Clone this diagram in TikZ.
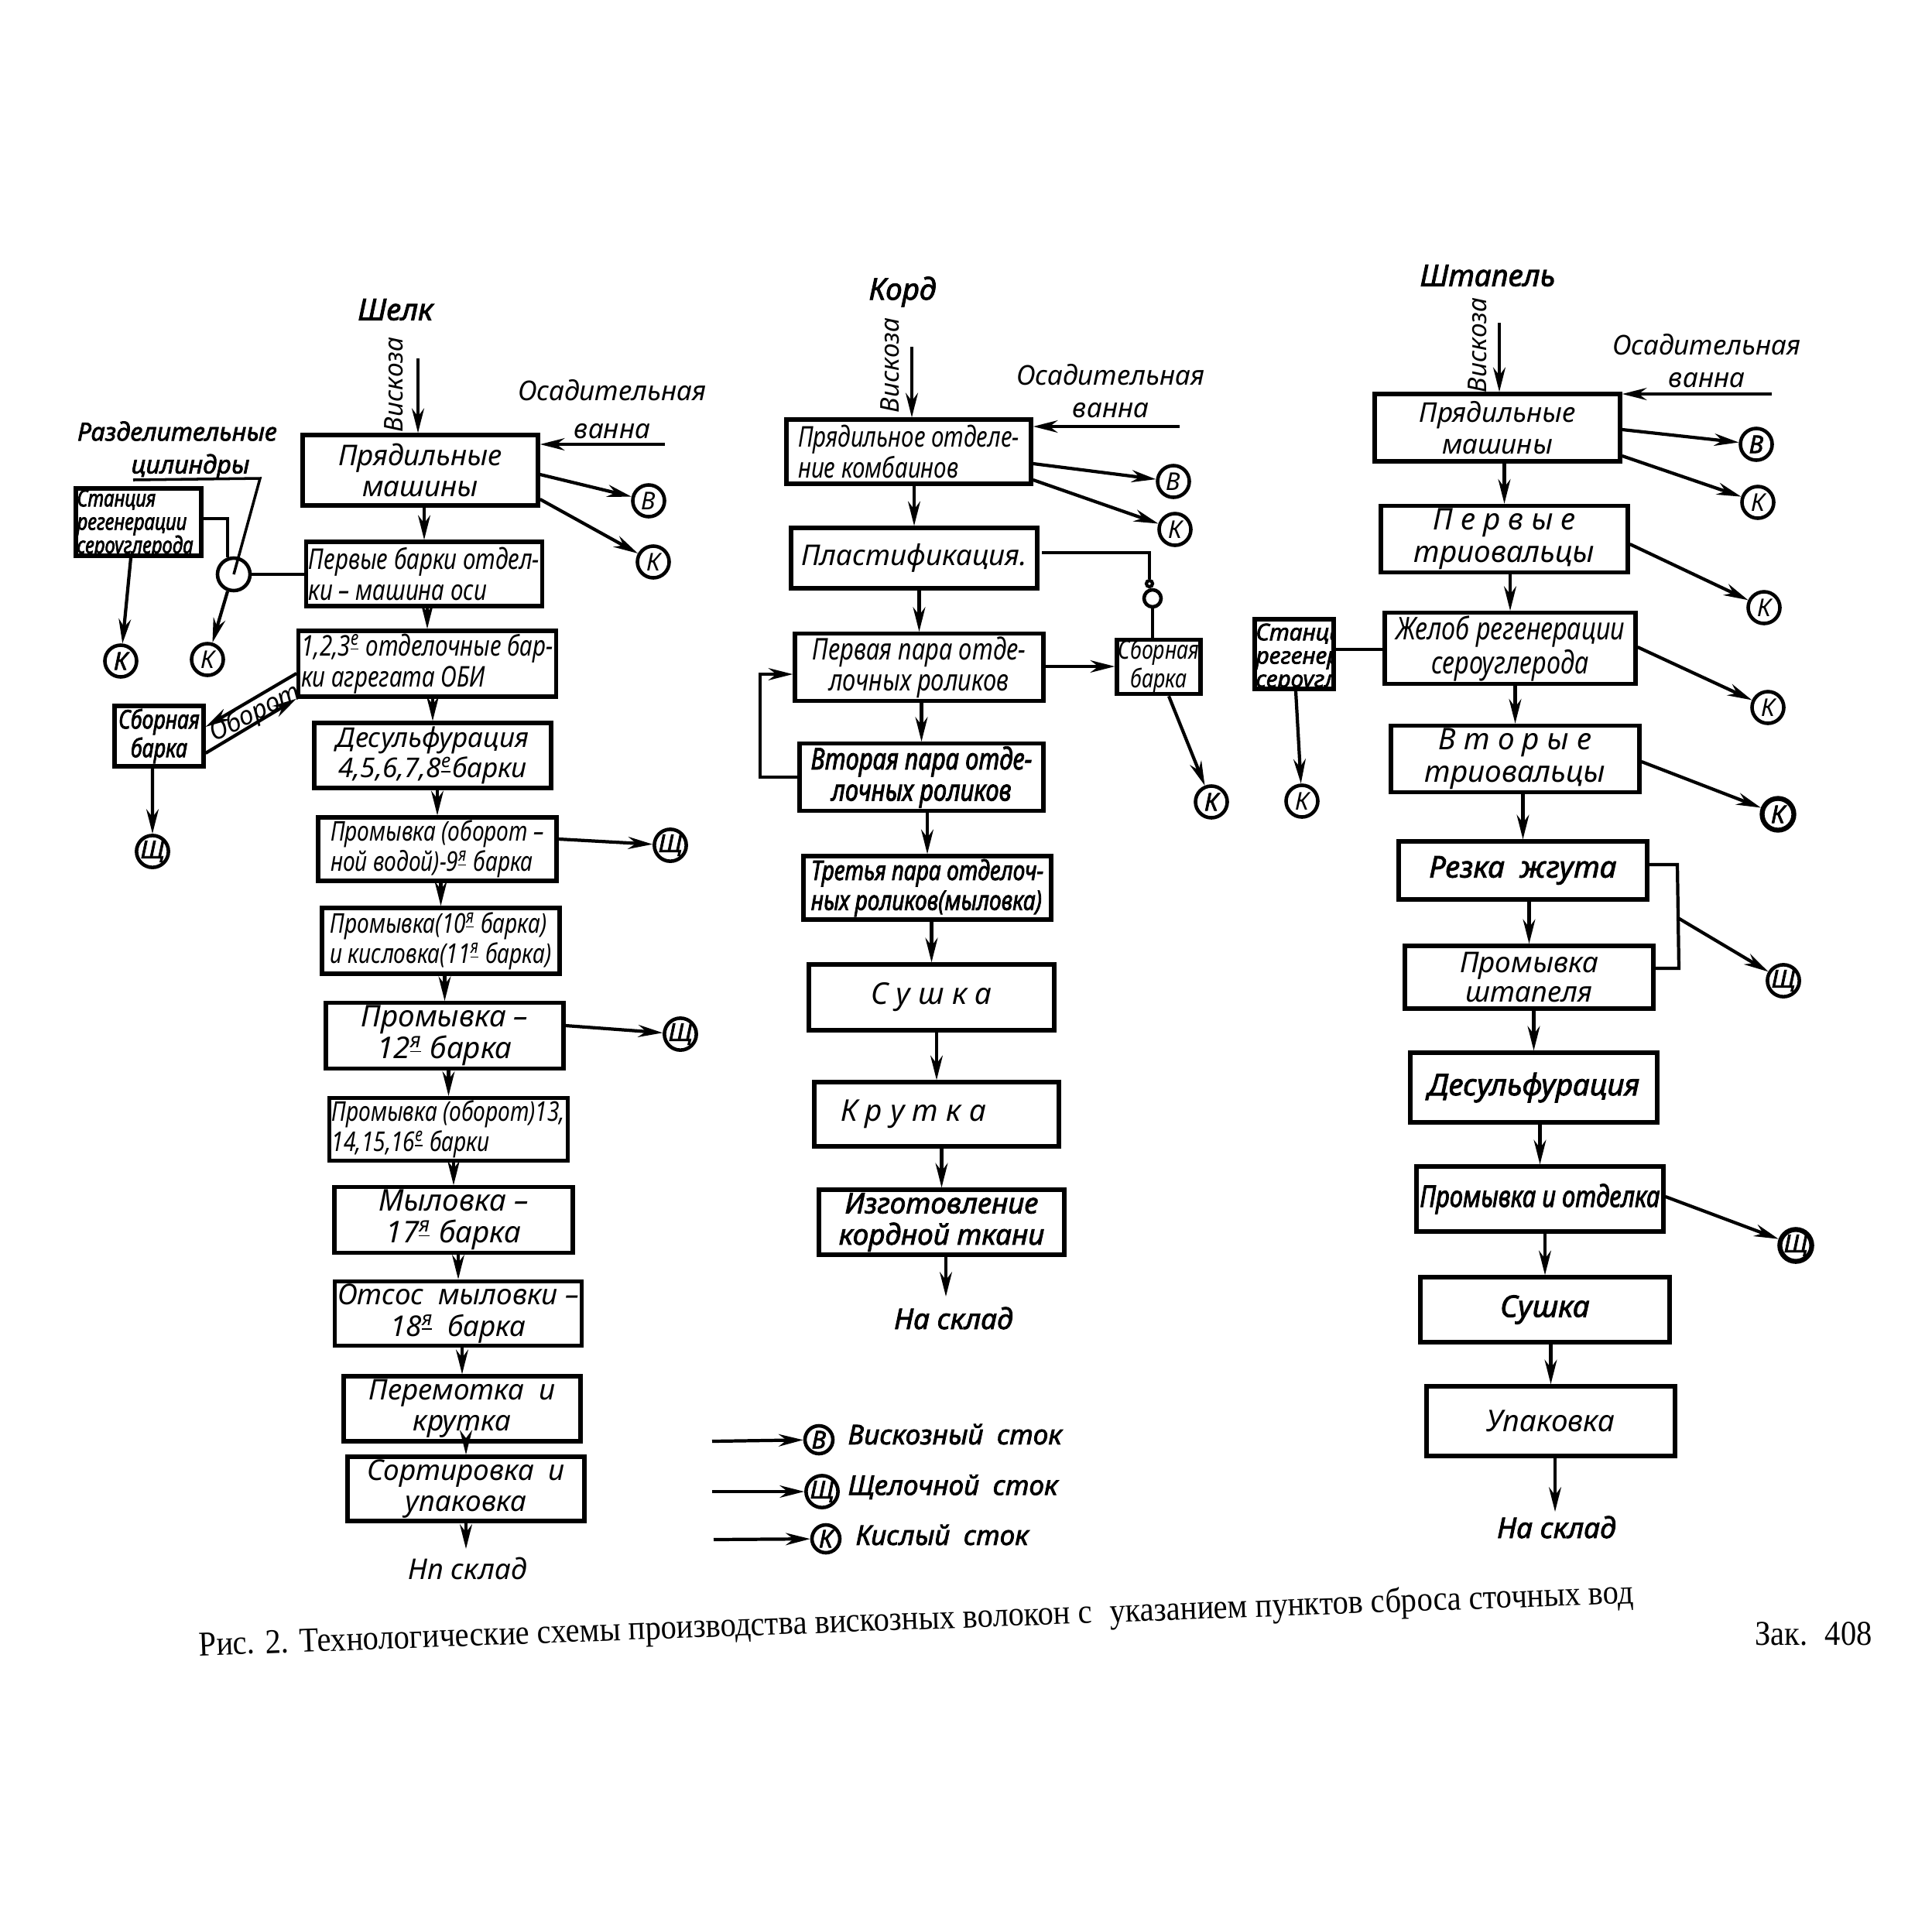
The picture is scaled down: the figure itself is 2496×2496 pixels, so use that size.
\documentclass[tikz,border=0pt]{standalone}
\usepackage{fontspec}
\setmainfont{Noto Sans}[BoldItalicFont={*/I}, BoldItalicFeatures={FakeBold=2.2}]
\newfontfamily\gc{Noto Sans}[FakeStretch=0.8, BoldItalicFont={*/I}, BoldItalicFeatures={FakeBold=2.2}]
\newfontfamily\capfont{Liberation Serif}[FakeStretch=0.9]
\usetikzlibrary{arrows.meta}
\newcommand\ordm[1]{\textsuperscript{\underline{#1}}}
\newcommand\setfs[2]{\fontsize{#1}{#2}\selectfont}
\begin{document}
\begin{tikzpicture}[x=0.01cm,y=-0.01cm,
  bx/.style={draw, line width=1.5pt, inner sep=1pt, align=center, font=\itshape\setfs{10.5}{11.5}},
  ci/.style={draw, circle, line width=1.3pt, minimum size=0.41cm, inner sep=0pt, font=\itshape\setfs{9}{9}},
  cib/.style={ci, font=\bfseries\itshape\setfs{9}{9}},
  ar/.style={line width=1.2pt, -{Stealth[length=9pt, width=4.5pt]}},
  ln/.style={line width=1.2pt},
  lbl/.style={font=\itshape\setfs{10}{11}, align=center, inner sep=0pt},
  ttl/.style={font=\bfseries\itshape\setfs{11}{13}, inner sep=0pt},
  stn/.style={font=\gc\bfseries\itshape\setfs{8.5}{8.6}, align=left, inner sep=1pt},
  ]
\fill[white] (0,0) rectangle (2496,2496);
\useasboundingbox (0,0) rectangle (2496,2496);

% ================= Column 1: Шелк =================
\node[ttl] (t1) at (511,400) {Шелк};
\coordinate (v1) at (540,463);
\node[lbl, rotate=90, font=\itshape\setfs{9.5}{10}] (v1t) at (509,497) {Вискоза};
\node[lbl] (os1) at (791,529) {Осадительная\\[3pt]ванна};
\coordinate (o1) at (859,574);

\node[bx, minimum width=3.04cm, minimum height=0.91cm] (b1) at (543,607.5) {Прядильные\\машины};
\node[bx, minimum width=3.04cm, minimum height=0.83cm, align=left, font=\gc\itshape\setfs{10.5}{11.5}] (b2) at (548,741.5) {Первые барки отдел-\\ки – машина оси};
\node[bx, minimum width=3.06cm, minimum height=0.85cm, align=left, font=\gc\itshape\setfs{10.5}{11.5}] (b3) at (552,857.5) {1,2,3\ordm{е} отделочные бар-\\ки агрегата ОБИ};
\node[bx, minimum width=3.06cm, minimum height=0.84cm, font=\itshape\setfs{10}{11}] (b4) at (559,976) {Десульфурация\\4,5,6,7,8\ordm{е}барки};
\node[bx, minimum width=3.08cm, minimum height=0.82cm, align=left, font=\gc\itshape\setfs{10}{11}] (b5) at (565,1097) {Промывка (оборот –\\ной водой)-9\ordm{я} барка};
\node[bx, minimum width=3.07cm, minimum height=0.85cm, align=left, font=\gc\itshape\setfs{10}{11}] (b6) at (569.5,1215.5) {Промывка(10\ordm{я} барка)\\и кисловка(11\ordm{я} барка)};
\node[bx, minimum width=3.07cm, minimum height=0.78cm, font=\itshape\setfs{11}{11.5}] (b7) at (574.5,1338) {Промывка –\\12\ordm{я} барка};
\node[bx, minimum width=3.07cm, minimum height=0.78cm, align=left, font=\gc\itshape\setfs{10}{11}] (b8) at (579.5,1459) {Промывка (оборот)13,\\14,15,16\ordm{е} барки};
\node[bx, minimum width=3.08cm, minimum height=0.74cm, font=\itshape\setfs{11}{11.5}] (b9) at (586,1576) {Мыловка –\\17\ordm{я} барка};
\node[bx, minimum width=3.06cm, minimum height=0.80cm] (b10) at (592,1697) {Отсос\enspace мыловки –\\18\ordm{я}\enspace барка};
\node[bx, minimum width=3.06cm, minimum height=0.84cm] (b11) at (597,1820) {Перемотка\enspace и\\крутка};
\node[bx, minimum width=3.06cm, minimum height=0.77cm] (b12) at (602,1923.5) {Сортировка\enspace и\\упаковка};
\coordinate (ns1) at (604,2001);
\node[lbl, font=\itshape\setfs{10.5}{11}] (ns1t) at (604,2026) {Нп склад};

\draw[ar] (v1) -- (v1 |- b1.north);
\draw[ar] (o1) -- (o1 -| b1.east);
\foreach \a/\b in {b1/b2,b2/b3,b3/b4,b4/b5,b5/b6,b6/b7,b7/b8,b8/b9,b9/b10,b10/b11,b11/b12}
  \draw[ar] (\a.south -| \b.north) -- (\b.north);
\draw[ar] (b12.south) -- (b12.south |- ns1);

\node[ci] (cB1) at (838,647) {В};
\node[ci] (cK1) at (844,726) {К};
\draw[ar] (b1.east |- 0,613) -- (cB1);
\draw[ar] (b1.east |- 0,645) -- (cK1);
\node[cib] (sh1) at (866,1092) {Щ};
\node[cib] (sh2) at (879,1336) {Щ};
\draw[ar] (b5.east |- 0,1084) -- (sh1);
\draw[ar] (b7.east |- 0,1325) -- (sh2);

% side elements column 1
\node[ttl, font=\bfseries\itshape\setfs{9.2}{10}] (rz1) at (229,557) {Разделительные};
\node[ttl, font=\bfseries\itshape\setfs{9.2}{10}] (rz2) at (246,603) {цилиндры};
\coordinate (ul1) at (172,620);
\coordinate (ul2) at (336,618);
\node[draw, line width=1.5pt, minimum width=1.62cm, minimum height=0.87cm, inner sep=0pt] (st1) at (179,674.5) {};
\begin{scope}
  \clip (st1.south west) rectangle (st1.north east);
  \node[stn, anchor=north west] (st1t) at (st1.north west) {Станция\\регенерации\\сероуглерода};
\end{scope}
\node[circle, draw, line width=1.3pt, minimum size=0.42cm, inner sep=0pt] (sc) at (302,742) {};
\node[cib] (sk1) at (156,854) {К};
\node[ci] (sk2) at (268,852) {К};
\draw[line width=1pt] (ul1) -- (ul2) -- (sc.center);
\draw[ln] (st1.east |- 0,670) -| (sc.110);
\draw[ln] (sc.east) -- (sc.east -| b2.west);
\draw[ar] (sc.250) -- (sk2);
\draw[ar] ([xshift=-0.1cm]st1.south) -- (sk1);

\node[draw, line width=1.5pt, minimum width=1.15cm, minimum height=0.78cm, inner sep=0pt, align=center, font=\gc\bfseries\itshape\setfs{9.5}{10.5}] (sb1) at (205.5,951) {Сборная\\барка};
\node[cib] (sh0) at (197,1100) {Щ};
\draw[ar] ([xshift=-0.085cm]sb1.south) -- (sh0);
\draw[ar] (b3.west |- 0,870) -- (sb1.east |- 0,939);
\draw[ar] (sb1.east |- 0,973) -- (b3.south west);
\node[lbl, rotate=27, font=\itshape\setfs{9.5}{10}] (obt) at (330,922) {Оборот};

% ================= Column 2: Корд =================
\node[ttl] (t2) at (1166,377) {Корд};
\coordinate (v2) at (1178,448);
\node[lbl, rotate=90, font=\itshape\setfs{9.5}{10}] (v2t) at (1150,472) {Вискоза};
\node[lbl] (os2) at (1435,505) {Осадительная\\[1pt]ванна};
\coordinate (o2) at (1524,551);

\node[bx, minimum width=3.16cm, minimum height=0.83cm, align=left, font=\gc\itshape\setfs{10.5}{11.5}] (p1) at (1174,583.5) {Прядильное отделе-\\ние комбаинов};
\node[bx, minimum width=3.18cm, minimum height=0.78cm] (p2) at (1181,721) {Пластификация.};
\node[bx, minimum width=3.21cm, minimum height=0.80cm, font=\gc\itshape\setfs{11}{11.5}] (p3) at (1187.5,862) {Первая пара отде-\\лочных роликов};
\node[bx, minimum width=3.15cm, minimum height=0.80cm, font=\gc\bfseries\itshape\setfs{11}{11.5}] (p4) at (1190.5,1004) {Вторая пара отде-\\лочных роликов};
\node[bx, minimum width=3.20cm, minimum height=0.82cm, align=left, font=\gc\bfseries\itshape\setfs{10}{11}] (p5) at (1198,1147) {Третья пара отделоч-\\ных роликов(мыловка)};
\node[bx, minimum width=3.17cm, minimum height=0.85cm, font=\itshape\setfs{11}{12}] (p6) at (1203.5,1288.5) {С у ш к а};
\node[bx, minimum width=3.16cm, minimum height=0.83cm, font=\itshape\setfs{11}{12}] (p7) at (1210,1439.5) {К р у т к а\hspace*{0.6cm}};
\node[bx, minimum width=3.17cm, minimum height=0.84cm, font=\bfseries\itshape\setfs{10.5}{11.5}] (p8) at (1216.5,1579) {Изготовление\\кордной ткани};
\coordinate (ns2) at (1222,1675);
\node[lbl, font=\bfseries\itshape\setfs{10.5}{11}] (ns2t) at (1232,1703) {На склад};

\draw[ar] (v2) -- (v2 |- p1.north);
\draw[ar] (o2) -- (o2 -| p1.east);
\foreach \a/\b in {p1/p2,p2/p3,p3/p4,p4/p5,p5/p6,p6/p7,p7/p8}
  \draw[ar] (\a.south -| \b.north) -- (\b.north);
\draw[ar] (p8.south -| ns2) -- (ns2);

\node[ci] (cB2) at (1516,622) {В};
\node[ci] (cK2) at (1518,684) {К};
\draw[ar] (p1.east |- 0,599) -- (cB2);
\draw[ar] (p1.east |- 0,620) -- (cK2);

\node[draw, line width=1.5pt, minimum width=1.08cm, minimum height=0.69cm, inner sep=0pt, align=center, font=\gc\itshape\setfs{9.5}{10.5}] (sb2) at (1497,861.5) {Сборная\\барка};
\node[circle, draw, line width=1.2pt, minimum size=0.08cm, inner sep=0pt] (vs1) at (1485,754) {};
\node[circle, draw, line width=1.3pt, minimum size=0.22cm, inner sep=0pt] (vs2) at (1489,773) {};
\coordinate (pl1) at (1346,714);
\draw[ln] (pl1) -| (vs1.north);
\draw[ln] (vs2.south) -- (vs2.south |- sb2.north);
\draw[ar] (p3.east |- 0,861) -- (sb2.west |- 0,861);
\node[cib] (cK3) at (1565,1036) {К};
\draw[ar] ([xshift=0.13cm]sb2.south) -- (cK3);
\coordinate (lp) at (982,1004);
\draw[ar, line width=1pt] (p4.west) -- (lp) |- (p3.west |- 0,871);

% ================= Column 3: Штапель =================
\node[ttl] (t3) at (1922,356) {Штапель};
\coordinate (v3) at (1937,417);
\node[lbl, rotate=90, font=\itshape\setfs{9.5}{10}] (v3t) at (1909,446) {Вискоза};
\node[lbl] (os3) at (2205,466) {Осадительная\\[1pt]ванна};
\coordinate (o3) at (2289,509);

\node[bx, minimum width=3.17cm, minimum height=0.87cm, font=\itshape\setfs{10}{11.5}] (q1) at (1934.5,552.5) {Прядильные\\машины};
\node[bx, minimum width=3.19cm, minimum height=0.85cm, font=\itshape\setfs{11}{12}] (q2) at (1943.5,696.5) {П е р в ы е\\триовальцы};
\node[bx, minimum width=3.24cm, minimum height=0.89cm, font=\gc\itshape\setfs{11.5}{12.5}] (q3) at (1951,837.5) {Желоб регенерации\\сероуглерода};
\node[bx, minimum width=3.21cm, minimum height=0.85cm, font=\itshape\setfs{11}{12}] (q4) at (1957.5,980.5) {В т о р ы е\\триовальцы};
\node[bx, minimum width=3.21cm, minimum height=0.75cm, font=\bfseries\itshape\setfs{11}{12}] (q5) at (1967.5,1124.5) {Резка\enspace жгута};
\node[bx, minimum width=3.21cm, minimum height=0.81cm, font=\itshape\setfs{10.5}{11}] (q6) at (1975.5,1262.5) {Промывка\\штапеля};
\node[bx, minimum width=3.19cm, minimum height=0.90cm, font=\bfseries\itshape\setfs{11}{12}] (q7) at (1981.5,1405) {Десульфурация};
\node[bx, minimum width=3.19cm, minimum height=0.84cm, font=\gc\bfseries\itshape\setfs{11}{12}] (q8) at (1989.5,1549) {Промывка и отделка};
\node[bx, minimum width=3.22cm, minimum height=0.84cm, font=\bfseries\itshape\setfs{11}{12}] (q9) at (1996,1692) {Сушка};
\node[bx, minimum width=3.21cm, minimum height=0.90cm, font=\itshape\setfs{11}{12}] (q10) at (2003.5,1836) {Упаковка};
\coordinate (ns3) at (2009,1953);
\node[lbl, font=\bfseries\itshape\setfs{10.5}{11}] (ns3t) at (2011,1973) {На склад};

\draw[ar] (v3) -- (v3 |- q1.north);
\draw[ar] (o3) -- (o3 -| q1.east);
\foreach \a/\b in {q1/q2,q2/q3,q3/q4,q4/q5,q5/q6,q6/q7,q7/q8,q8/q9,q9/q10}
  \draw[ar] (\a.south -| \b.north) -- (\b.north);
\draw[ar] (q10.south -| ns3) -- (ns3);

\node[cib] (cB3) at (2269,574) {В};
\node[ci] (cK4) at (2271,649) {К};
\node[ci] (cK5) at (2279,785) {К};
\node[ci] (cK6) at (2284,914) {К};
\node[cib, line width=1.8pt] (cK8) at (2297,1052) {К};
\node[cib] (sh3) at (2304,1267) {Щ};
\node[cib, line width=1.8pt] (sh4) at (2320,1609) {Щ};
\draw[ar] (q1.east |- 0,555) -- (cB3);
\draw[ar] (q1.east |- 0,589) -- (cK4);
\draw[ar] (q2.east |- 0,703) -- (cK5);
\draw[ar] (q3.east |- 0,836) -- (cK6);
\draw[ar] (q4.east |- 0,984) -- (cK8);
\coordinate (br1) at (2167,1117);
\coordinate (br2) at (2169,1251);
\coordinate (br3) at (2168,1186);
\draw[ln] (q5.east |- br1) -- (br1) -- (br2) -- (br2 -| q6.east);
\draw[ar] (br3) -- (sh3);
\draw[ar] (q8.east |- 0,1546) -- (sh4);

\node[draw, line width=1.5pt, minimum width=1.02cm, minimum height=0.90cm, inner sep=0pt] (st3) at (1672,845) {};
\begin{scope}
  \clip (st3.south west) rectangle (st3.north east);
  \node[stn, anchor=north west, font=\bfseries\itshape\setfs{8.5}{8.6}] (st3t) at ([yshift=-0.04cm]st3.north west) {Станция\\регенерации\\сероуглерода};
\end{scope}
\node[ci] (cK7) at (1682,1035) {К};
\draw[ln] (st3.east |- 0,839) -- (q3.west |- 0,839);
\draw[ar] ([xshift=0.02cm]st3.south) -- (cK7);

% ================= Legend =================
\coordinate (lg1) at (920,1862);
\coordinate (lg2) at (920,1927);
\coordinate (lg3) at (922,1989);
\node[cib, minimum size=0.36cm] (lB) at (1058,1860) {В};
\node[cib, minimum size=0.36cm] (lSh) at (1062,1927) {Щ};
\node[cib, minimum size=0.36cm] (lK) at (1067,1988) {К};
\draw[ar] (lg1) -- (lB);
\draw[ar] (lg2) -- (lSh);
\draw[ar] (lg3) -- (lK);
\node[lbl, anchor=west, font=\bfseries\itshape\setfs{10}{11}] (lBt) at (1095,1853) {Вискозный\enspace сток};
\node[lbl, anchor=west, font=\bfseries\itshape\setfs{10}{11}] (lSht) at (1095,1921) {Щелочной\enspace сток};
\node[lbl, anchor=west, font=\bfseries\itshape\setfs{10}{11}] (lKt) at (1105,1983) {Кислый\enspace сток};

% ================= Caption =================
\node[rotate=2.1, inner sep=0pt, font=\capfont\setfs{12.8}{14}] (cap) at (1184,2094) {Рис. 2. Технологические схемы производства вискозных волокон с\enspace указанием пунктов сброса сточных вод};
\node[inner sep=0pt, font=\capfont\setfs{12.8}{14}] (zak) at (2343,2111) {Зак.\enspace 408};
\end{tikzpicture}
\end{document}
